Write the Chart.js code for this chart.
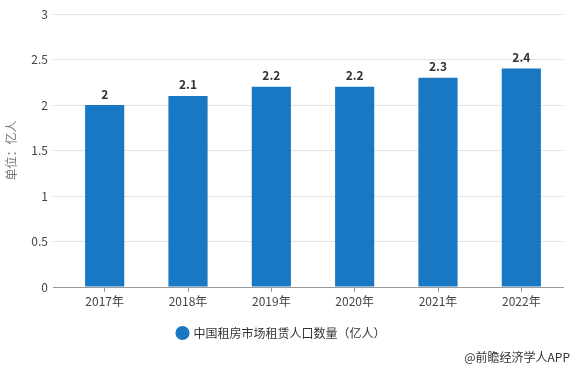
<!DOCTYPE html>
<html>
<head>
<meta charset="utf-8">
<script src="https://cdn.jsdelivr.net/npm/chart.js@4/dist/chart.umd.min.js"></script>
<style>
html,body{margin:0;padding:0;background:#fff;}
#wrap{width:576px;height:371px;position:relative;}
</style>
</head>
<body>
<div id="wrap"><canvas id="c" width="576" height="371"></canvas></div>
<script>
const categories = ['2017年','2018年','2019年','2020年','2021年','2022年'];
const values = [2, 2.1, 2.2, 2.2, 2.3, 2.4];
const yTicks = [0, 0.5, 1, 1.5, 2, 2.5, 3];
const seriesName = '中国租房市场租赁人口数量（亿人）';
const yTitle = '单位：亿人';
const sourceText = '@前瞻经济学人APP';

const FONT = '"Noto Sans CJK SC", "Microsoft YaHei", sans-serif';
const BLUE = '#1878c4';

const labelPlugin = {
  id: 'valLabels',
  afterDatasetsDraw(chart) {
    const ctx = chart.ctx;
    const meta = chart.getDatasetMeta(0);
    ctx.save();
    ctx.font = 'bold 12px ' + FONT;
    ctx.fillStyle = '#333';
    ctx.textAlign = 'center';
    ctx.textBaseline = 'bottom';
    meta.data.forEach((bar, i) => {
      ctx.fillText(String(values[i]), bar.x, bar.y - 5);
    });
    ctx.restore();
  },
  afterDraw(chart) {
    const ctx = chart.ctx;
    ctx.save();
    ctx.font = '12px ' + FONT;
    ctx.fillStyle = '#333';
    ctx.textAlign = 'right';
    ctx.textBaseline = 'middle';
    ctx.fillText(sourceText, 570, 357);
    ctx.restore();
  }
};

new Chart(document.getElementById('c'), {
  type: 'bar',
  data: {
    labels: categories,
    datasets: [{
      label: seriesName,
      data: values,
      backgroundColor: BLUE,
      borderWidth: 0,
      barPercentage: 0.47,
      categoryPercentage: 1
    }]
  },
  plugins: [labelPlugin],
  options: {
    responsive: false,
    animation: false,
    devicePixelRatio: 1,
    layout: { padding: { left: 0, right: 13, top: 14, bottom: 22 } },
    plugins: {
      tooltip: { enabled: false },
      legend: {
        position: 'bottom',
        labels: {
          usePointStyle: true,
          pointStyle: 'circle',
          boxWidth: 10,
          boxHeight: 10,
          padding: 10,
          color: '#333',
          font: { family: FONT, size: 12 }
        }
      }
    },
    scales: {
      x: {
        offset: true,
        afterFit(s) { s.height = 30; },
        grid: {
          offset: false,
          drawOnChartArea: false,
          drawTicks: true,
          tickLength: 5,
          color: '#999'
        },
        border: { display: true, color: '#999', width: 1 },
        ticks: {
          color: '#444',
          padding: 2,
          font: { family: FONT, size: 12 },
          maxRotation: 0
        }
      },
      y: {
        min: 0,
        max: 3,
        afterFit(s) { s.width = 63; },
        afterBuildTicks(s) { s.ticks = yTicks.map(v => ({ value: v })); },
        grid: {
          color: (c) => c.tick && c.tick.value === 0 ? '#999' : '#e3e3e3',
          tickLength: 10,
          drawTicks: true
        },
        border: { display: false },
        ticks: {
          color: '#444',
          padding: 5,
          font: { family: FONT, size: 12 },
          callback: (v) => String(v)
        },
        title: {
          display: true,
          text: yTitle,
          color: '#777',
          padding: { top: 4, bottom: 0 },
          font: { family: FONT, size: 12 }
        }
      }
    }
  }
});
</script>
</body>
</html>
